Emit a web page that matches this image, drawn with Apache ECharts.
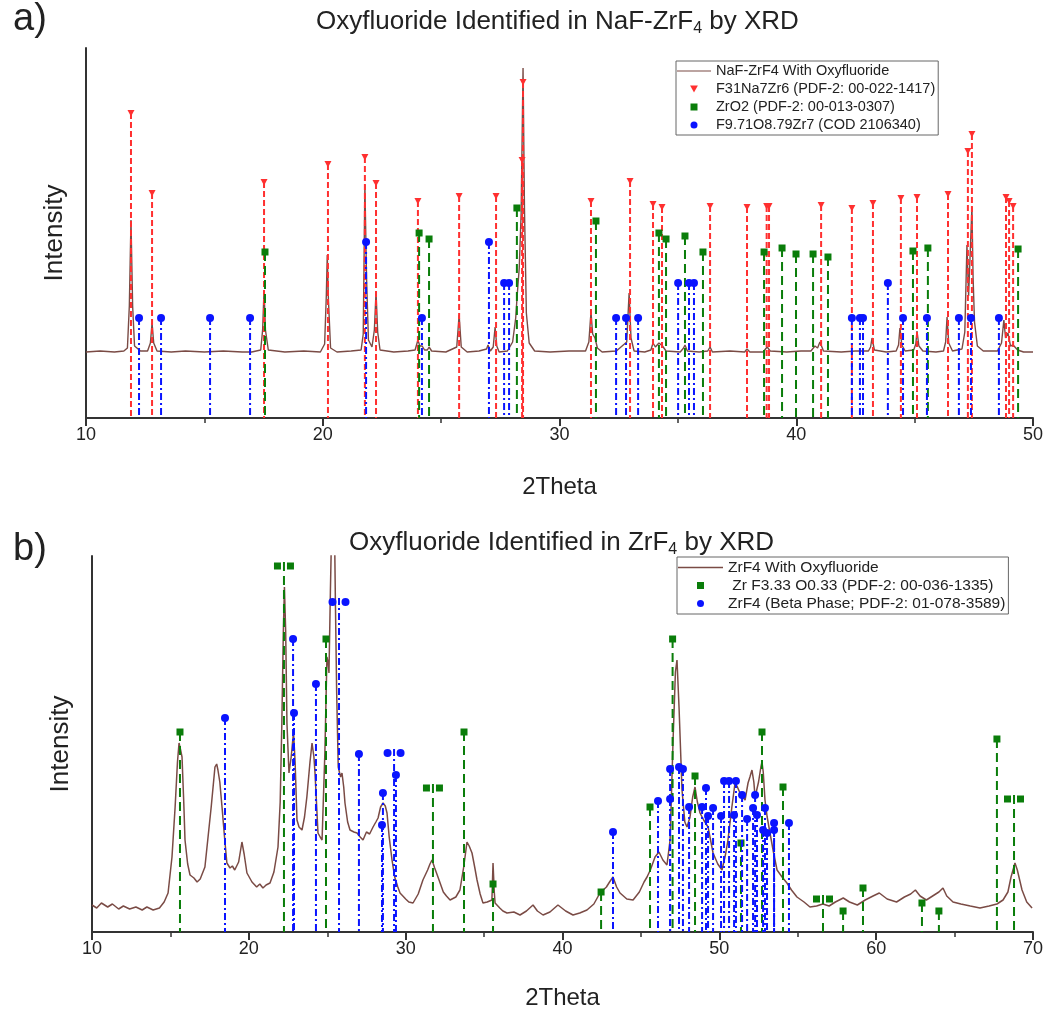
<!DOCTYPE html>
<html><head><meta charset="utf-8">
<script src="https://cdn.jsdelivr.net/npm/echarts@6/dist/echarts.min.js"></script>
<style>html,body{margin:0;padding:0;background:#fff}#c{width:1048px;height:1013px}</style>
</head><body><div id="c"></div>
<script>
// ---------- Panel a data (2Theta, intensity a.u.) ----------
const specA = [
[10.0,66],[10.6,67],[11.2,66],[11.6,67],[11.75,70],[11.83,112],[11.9,198],[11.97,112],[12.05,72],[12.3,67],
[12.6,67],[12.72,75],[12.79,95],[12.86,75],[13.0,67],[13.6,66],[14.2,67],[15.0,66],[15.8,67],[16.6,66],[17.0,66],
[17.38,68],[17.46,88],[17.52,128],[17.58,88],[17.7,68],[18.4,66],[19.2,67],[19.9,66],
[20.08,74],[20.15,122],[20.19,163],[20.24,118],[20.33,70],[20.6,66],[21.2,67],
[21.62,68],[21.71,84],[21.78,233],[21.85,140],[21.93,78],[22.08,71],[22.18,88],[22.25,126],[22.32,86],[22.42,68],
[23.0,66],[23.6,67],[23.9,68],[24.02,78],[24.1,72],[24.2,72],[24.3,68],[24.42,68],[24.49,71],[24.6,67],
[25.2,66],[25.66,71],[25.76,103],[25.85,71],[26.1,66],[26.6,67],
[26.92,69],[26.98,73],[27.08,67],[27.2,71],[27.28,91],[27.35,72],[27.45,66],[27.8,67],
[28.02,76],[28.15,100],[28.22,125],[28.3,150],[28.38,205],[28.46,350],[28.52,210],[28.6,105],[28.72,75],[28.95,67],
[29.6,66],[30.4,67],[31.1,67],[31.24,76],[31.33,106],[31.4,84],[31.5,80],[31.6,70],[31.8,66],
[32.4,67],[32.84,76],[32.94,125],[33.02,80],[33.15,67],[33.6,66],
[33.86,68],[33.95,75],[34.05,71],[34.2,75],[34.35,72],[34.5,67],
[35.1,66],[35.24,70],[35.3,73],[35.4,67],[35.9,66],
[36.26,67],[36.36,71],[36.46,66],[37.2,67],[37.82,66],[37.92,69],[38.04,66],
[38.6,66],[38.77,71],[38.9,67],[39.6,66],[40.2,67],
[40.62,67],[40.79,72],[40.9,70],[41.0,76],[41.15,67],[41.9,66],[42.5,67],
[43.05,67],[43.14,71],[43.2,80],[43.3,68],[43.8,66],
[44.22,67],[44.32,73],[44.38,90],[44.46,73],[44.6,67],
[44.96,68],[45.05,74],[45.1,87],[45.18,72],[45.35,67],[45.9,66],
[46.22,67],[46.31,76],[46.37,101],[46.44,75],[46.6,67],
[47.0,69],[47.12,86],[47.21,173],[47.28,122],[47.34,122],[47.42,211],[47.47,140],[47.53,96],[47.65,72],[47.9,67],
[48.5,67],[48.67,75],[48.77,98],[48.84,80],[48.94,85],[49.05,72],[49.16,73],[49.24,75],[49.35,68],[49.6,66],[50.0,66]
];
const redA = [[11.90,305],[12.79,225],[17.52,236],[20.22,254],[21.78,261],[22.25,235],[24.02,217],[25.76,222],[27.32,222],
[28.42,258],[28.46,336],[31.33,217],[32.98,237],[33.95,214],[34.33,211],[36.36,212],[37.92,211],[38.75,212],[38.85,212],
[41.05,213],[42.35,210],[43.24,215],[44.42,220],[45.10,221],[46.41,224],[47.25,267],[47.42,284],[48.86,221],[48.99,217],[49.16,212]];
const greenA = [[17.56,166],[24.07,185],[24.49,179],[28.20,210],[31.54,197],[34.20,185],[34.50,179],[35.30,182],[36.06,166],
[38.64,166],[39.40,170],[39.99,164],[40.71,164],[41.34,161],[44.93,167],[45.56,170],[49.37,169]];
const blueA = [[12.24,100],[13.17,100],[15.24,100],[16.93,100],[21.83,176],[24.19,100],[27.02,176],[27.66,135],[27.87,135],
[32.39,100],[32.81,100],[33.32,100],[35.01,135],[35.47,135],[35.68,135],[42.35,100],[42.69,100],[42.82,100],[43.87,135],
[44.51,100],[45.52,100],[46.87,100],[47.38,100],[48.56,100]];

// ---------- Panel b data ----------
const specB = [
[10.0,27],[10.3,24],[10.6,29],[11.0,25],[11.3,28],[11.7,23],[12.0,26],[12.4,23],[12.8,25],[13.2,22],[13.5,25],[13.9,22],[14.3,24],
[14.6,30],[14.85,39],[15.1,75],[15.3,125],[15.45,170],[15.55,189],[15.65,182],[15.74,175],[15.85,130],[15.93,92],[16.1,68],[16.25,57],
[16.5,54],[16.7,50],[16.9,53],[17.2,65],[17.4,95],[17.6,125],[17.84,165],[17.95,168],[18.03,162],[18.15,150],[18.29,125],[18.45,95],
[18.6,69],[18.8,64],[18.95,66],[19.1,62],[19.35,70],[19.56,90],[19.7,78],[19.88,59],[20.2,50],[20.5,45],[20.7,48],[20.9,44],[21.1,47],[21.35,49],
[21.6,60],[21.86,85],[22.0,130],[22.1,205],[22.2,300],[22.27,345],[22.35,300],[22.43,209],[22.56,159],[22.7,175],[22.85,200],
[22.95,170],[23.07,112],[23.2,105],[23.39,102],[23.55,115],[23.7,135],[23.9,170],[24.03,189],[24.15,175],[24.22,159],[24.41,99],
[24.55,95],[24.67,92],[24.85,180],[24.98,275],[25.05,270],[25.11,259],[25.2,340],[25.3,420],[25.45,420],[25.52,330],[25.6,240],
[25.7,165],[25.85,155],[25.94,159],[26.05,145],[26.13,129],[26.3,110],[26.45,102],[26.7,100],[26.9,99],[27.1,95],[27.28,92],
[27.5,100],[27.7,98],[27.92,105],[28.1,110],[28.24,114],[28.4,125],[28.56,129],[28.7,126],[28.81,119],[28.95,95],[29.13,72],
[29.3,55],[29.5,45],[29.64,39],[30.0,33],[30.2,30],[30.47,29],[30.8,38],[31.1,52],[31.4,62],[31.55,68],[31.68,72],[31.85,64],[32.06,55],
[32.4,40],[32.6,36],[32.83,32],[33.2,35],[33.46,42],[33.7,65],[33.91,90],[34.05,86],[34.23,79],[34.4,65],[34.55,52],[34.75,38],
[34.93,29],[35.2,30],[35.5,32],[35.57,69],[35.65,40],[35.7,29],[36.0,24],[36.2,21],[36.46,19],[36.9,20],[37.29,17],[37.7,21],[38.12,27],
[38.4,21],[38.76,17],[39.2,20],[39.71,27],[40.2,21],[40.67,17],[41.1,19],[41.56,22],[42.0,28],[42.39,39],[42.8,45],[43.0,50],
[43.22,55],[43.45,45],[43.67,39],[44.1,33],[44.5,32],[44.9,40],[45.2,50],[45.39,55],[45.6,62],[45.9,75],[46.15,80],[46.4,72],
[46.66,67],[46.86,92],[47.05,192],[47.2,260],[47.3,272],[47.43,225],[47.62,142],[47.8,110],[47.94,105],[48.13,115],[48.3,135],
[48.45,145],[48.6,130],[48.77,119],[49.0,112],[49.28,105],[49.6,79],[49.9,68],[50.17,62],[50.4,78],[50.55,92],[50.8,125],
[51.0,149],[51.15,145],[51.32,139],[51.5,135],[51.64,132],[51.83,149],[51.95,155],[52.08,162],[52.2,150],[52.28,135],[52.5,150],
[52.65,165],[52.72,170],[52.8,160],[52.91,132],[53.05,115],[53.23,99],[53.45,80],[53.68,62],[54.0,55],[54.31,49],[54.6,42],
[54.95,35],[55.4,30],[55.78,25],[56.2,26],[56.6,28],[57.0,26],[57.4,30],[57.9,34],[58.3,30],[58.8,27],[59.3,32],[59.8,36],
[60.2,39],[60.7,33],[61.3,30],[61.8,35],[62.2,38],[62.5,42],[62.8,36],[63.2,32],[63.6,36],[64.0,40],[64.26,44],[64.5,36],
[64.9,30],[65.4,28],[66.0,26],[66.62,24],[67.2,26],[67.7,28],[68.09,32],[68.4,40],[68.6,55],[68.85,69],[69.0,62],[69.3,42],
[69.6,30],[69.94,24]
];
const greenB = [[15.61,200],[24.92,293],[33.72,200],[35.57,48],[42.46,40],[45.58,125],[47.02,293],[48.45,156],[51.38,89],
[52.72,200],[54.06,145],[57.89,21],[59.16,44],[62.92,29],[64.0,21],[67.70,193]];
const greenBPairs = [[22.24,366],[31.74,144],[56.61,33],[68.79,133]];
const blueB = [[18.48,214],[22.82,293],[22.88,219],[24.28,248],[27.02,178],[28.55,139],[28.49,107],[29.38,157],[43.22,100],
[46.09,131],[46.86,163],[46.86,133],[47.43,165],[47.68,163],[48.07,125],[48.90,125],[49.15,144],[49.28,116],[49.60,124],
[50.11,116],[50.30,151],[50.62,151],[51.06,151],[50.94,117],[51.45,137],[51.77,113],[52.15,124],[52.28,137],[52.40,117],
[52.79,102],[52.91,124],[53.04,99],[53.49,109],[53.49,102],[54.44,109]];
const blueBPairs = [[25.75,330],[29.26,179]];

const xTicksA = [10, 50, 10];  // min, max, interval
const xTicksB = [10, 70, 10];

const FONT = 'Liberation Sans, Arial, sans-serif';
const RED = '#ff3030', GREEN = '#0a7d0a', BLUE = '#0a14ff', BROWN = '#7a4b45';

function marker(kind, cx, cy, color) {
  if (kind === 'tri') return {type:'polygon', shape:{points:[[cx-3.5,cy-3],[cx+3.5,cy-3],[cx,cy+3.5]]}, style:{fill:color}};
  if (kind === 'sq') return {type:'rect', shape:{x:cx-3.5,y:cy-3.5,width:7,height:7}, style:{fill:color}};
  return {type:'circle', shape:{cx:cx, cy:cy, r:4}, style:{fill:color}};
}
function stick(kind, color, dash, pair) {
  return function (params, api) {
    const x = api.value(0), h = api.value(1);
    const top = api.coord([x, h]), bot = api.coord([x, 0]);
    const ch = [{type:'line', shape:{x1:top[0], y1:top[1]-(pair?4:0), x2:bot[0], y2:bot[1]},
      style:{stroke:color, lineWidth:2, lineDash:dash}}];
    (pair ? [-6.5, 6.5] : [0]).forEach(o => ch.push(marker(kind, top[0]+o, top[1], color)));
    return {type:'group', children:ch};
  };
}
function stickSeries(name, data, kind, color, dash, pair, idx) {
  return {type:'custom', name:name, data:data, xAxisIndex:idx, yAxisIndex:idx, z:4,
    itemStyle:{color:color}, renderItem:stick(kind, color, dash, pair), animation:false, silent:true};
}
const DR = [6,3], DG = [9,5], DB = [7,3,2,3];

const names = {
  la: 'NaF-ZrF4 With Oxyfluoride', ra: 'F31Na7Zr6 (PDF-2: 00-022-1417)', ga: 'ZrO2 (PDF-2: 00-013-0307)', ba: 'F9.71O8.79Zr7 (COD 2106340)',
  lb: 'ZrF4 With Oxyfluoride', gb: ' Zr F3.33 O0.33 (PDF-2: 00-036-1335)', bb: 'ZrF4 (Beta Phase; PDF-2: 01-078-3589)'
};
const ICON_LINE = 'path://M0,0H40V1.4H0Z', ICON_TRI = 'path://M0,0L10,0L5,9Z', ICON_SQ = 'path://M0,0H10V10H0Z';

function xAxis(idx, t, gap) {
  return {type:'value', gridIndex:idx, min:t[0], max:t[1], interval:t[2],
    axisLine:{lineStyle:{color:'#333', width:2}}, axisTick:{length:8, lineStyle:{color:'#333', width:2}},
    minorTick:{show:true, splitNumber:2, length:5, lineStyle:{color:'#333', width:1.5}},
    splitLine:{show:false}, minorSplitLine:{show:false},
    axisLabel:{fontSize:18, color:'#222', fontFamily:FONT, margin:8},
    name:'2Theta', nameLocation:'middle', nameGap:gap, nameTextStyle:{fontSize:24, color:'#222', fontFamily:FONT}};
}
function yAxis(idx, max) {
  return {type:'value', gridIndex:idx, min:0, max:max, axisLine:{show:true, lineStyle:{color:'#333', width:2}},
    axisTick:{show:false}, axisLabel:{show:false}, splitLine:{show:false},
    name:'Intensity', nameLocation:'middle', nameGap:18, nameTextStyle:{fontSize:26, color:'#222', fontFamily:FONT}};
}
const titleRich = {sub:{fontSize:16, lineHeight:14, verticalAlign:'bottom', fontFamily:FONT, color:'#222'}};
const titleStyle = {fontSize:26, fontWeight:'normal', color:'#222', fontFamily:FONT, lineHeight:30, rich:titleRich};

const chart = echarts.init(document.getElementById('c'), null, {renderer:'canvas'});
chart.setOption({
  backgroundColor:'#fff', animation:false,
  title:[
    {text:'a)', left:8, top:-4, textStyle:{fontSize:38, fontWeight:'normal', color:'#222', fontFamily:FONT}},
    {text:'Oxyfluoride Identified in NaF-ZrF{sub|4} by XRD', left:311, top:2, textStyle:titleStyle},
    {text:'b)', left:8, top:526, textStyle:{fontSize:38, fontWeight:'normal', color:'#222', fontFamily:FONT}},
    {text:'Oxyfluoride Identified in ZrF{sub|4} by XRD', left:344, top:523, textStyle:titleStyle}
  ],
  grid:[
    {left:86, right:15, top:48, height:370},
    {left:92, right:15, top:556, height:376}
  ],
  xAxis:[xAxis(0, xTicksA, 57), xAxis(1, xTicksB, 54)],
  yAxis:[yAxis(0, 370), yAxis(1, 376)],
  legend:[
    {left:676, top:61, orient:'vertical', itemWidth:34, itemHeight:7, itemGap:2, padding:[2,3,2,1],
      borderColor:'#666', borderWidth:1, backgroundColor:'#fff', selectedMode:false,
      textStyle:{fontSize:14.5, color:'#222', fontFamily:FONT, lineHeight:16},
      data:[{name:names.la, icon:ICON_LINE, itemStyle:{color:BROWN}}, {name:names.ra, icon:ICON_TRI, itemStyle:{color:RED}},
            {name:names.ga, icon:ICON_SQ, itemStyle:{color:GREEN}}, {name:names.ba, icon:'circle', itemStyle:{color:BLUE}}]},
    {left:677, top:557, orient:'vertical', itemWidth:45, itemHeight:7, itemGap:1, padding:[2,3,2,1],
      borderColor:'#666', borderWidth:1, backgroundColor:'#fff', selectedMode:false,
      textStyle:{fontSize:15.5, color:'#222', fontFamily:FONT, lineHeight:17},
      data:[{name:names.lb, icon:ICON_LINE, itemStyle:{color:BROWN}},
            {name:names.gb, icon:ICON_SQ, itemStyle:{color:GREEN}}, {name:names.bb, icon:'circle', itemStyle:{color:BLUE}}]}
  ],
  series:[
    {type:'line', name:names.la, data:specA, xAxisIndex:0, yAxisIndex:0, showSymbol:false, symbol:'none', z:2,
      lineStyle:{color:BROWN, width:1.4}, itemStyle:{color:BROWN}, clip:true, silent:true},
    stickSeries(names.ra, redA, 'tri', RED, DR, false, 0),
    stickSeries(names.ga, greenA, 'sq', GREEN, DG, false, 0),
    stickSeries(names.ba, blueA, 'circ', BLUE, DB, false, 0),
    {type:'line', name:names.lb, data:specB, xAxisIndex:1, yAxisIndex:1, showSymbol:false, symbol:'none', z:2,
      lineStyle:{color:BROWN, width:1.5}, itemStyle:{color:BROWN}, clip:true, silent:true},
    stickSeries(names.gb, greenB, 'sq', GREEN, DG, false, 1),
    stickSeries(names.gb, greenBPairs, 'sq', GREEN, DG, true, 1),
    stickSeries(names.bb, blueB, 'circ', BLUE, DB, false, 1),
    stickSeries(names.bb, blueBPairs, 'circ', BLUE, DB, true, 1)
  ]
});
</script></body></html>
